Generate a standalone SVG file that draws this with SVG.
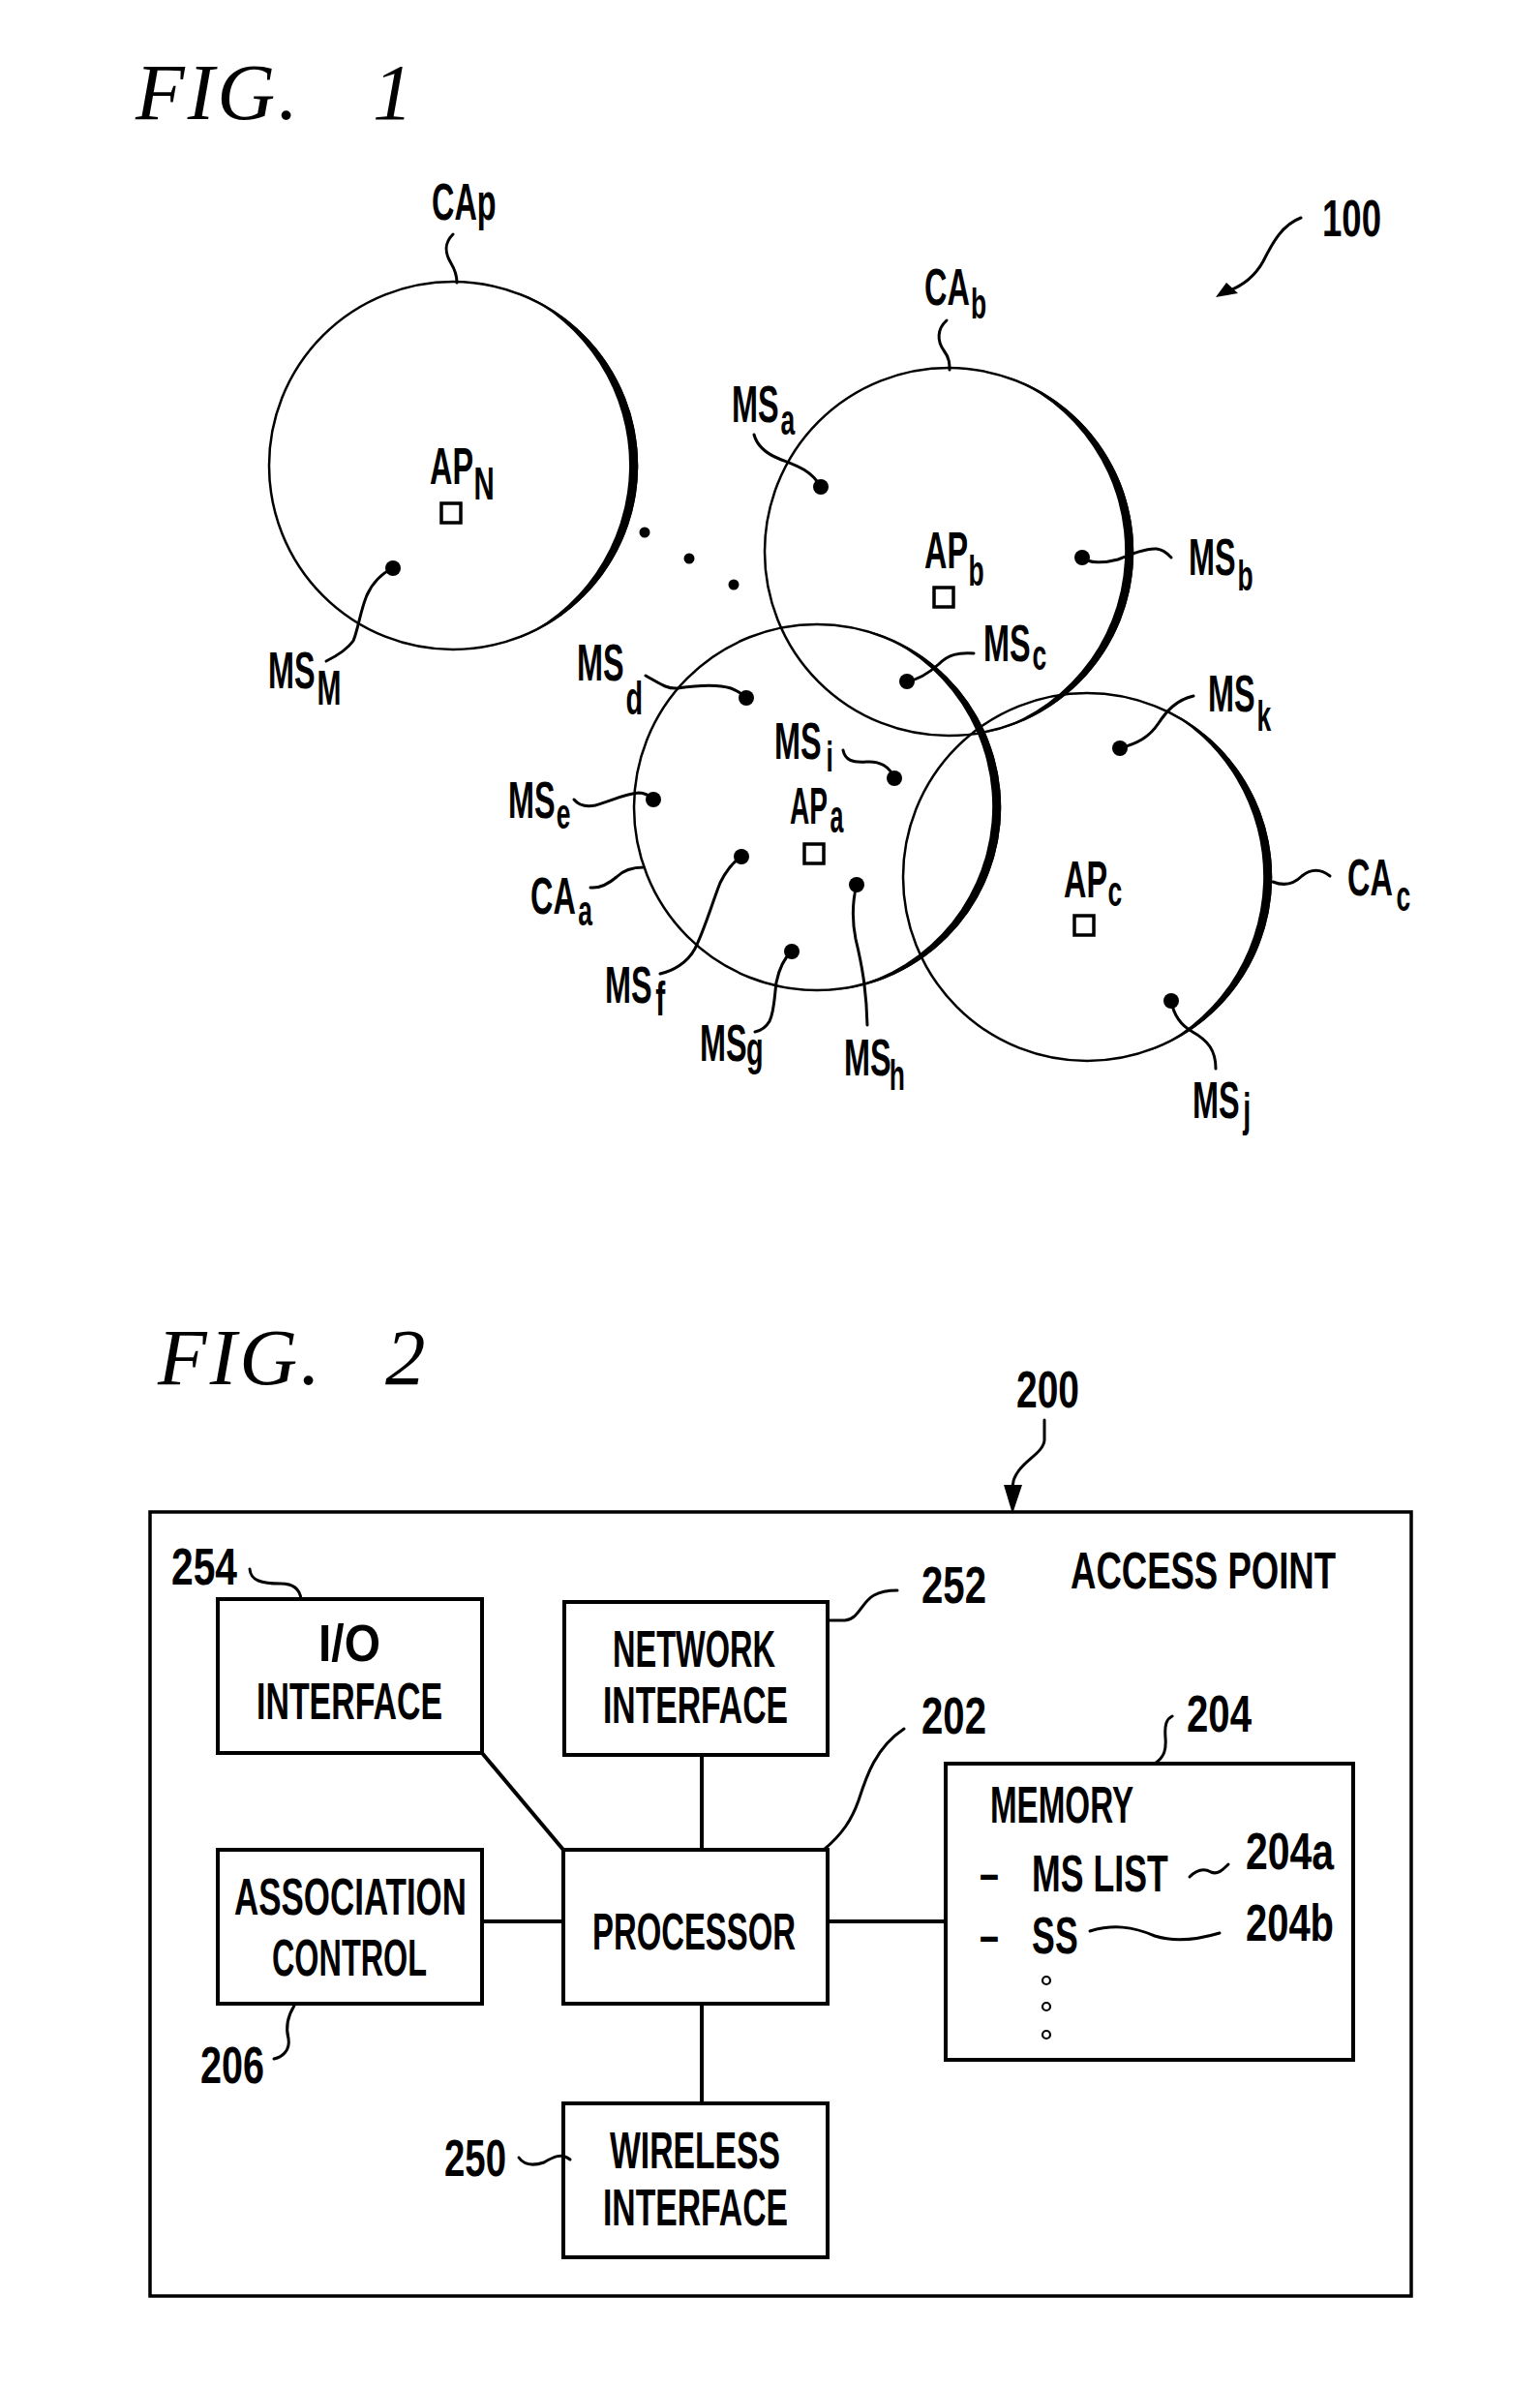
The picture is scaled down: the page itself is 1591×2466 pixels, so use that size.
<svg xmlns="http://www.w3.org/2000/svg" width="1591" height="2466" viewBox="0 0 1591 2466">
<style>
.t{font-family:"Liberation Sans",Arial,sans-serif;font-size:54px;font-weight:bold;fill:#000}
.s{font-size:44px}
.fig{font-family:"Liberation Serif","Times New Roman",serif;font-style:italic;font-size:83px;fill:#000;letter-spacing:3px}
.thin{fill:none;stroke:#000;stroke-width:2.5}
.cres{fill:#000;stroke:none}
.ld{fill:none;stroke:#000;stroke-width:3;stroke-linecap:round;stroke-linejoin:round}
.dot{fill:#000}
.sq{fill:#fff;stroke:#000;stroke-width:3.5}
.box{fill:#fff;stroke:#000;stroke-width:4}
.ln{fill:none;stroke:#000;stroke-width:4}
.oc{fill:none;stroke:#000;stroke-width:2.2}
</style>
<rect width="1591" height="2466" fill="#fff"/>

<!-- FIG. 1 -->
<text class="fig" x="140" y="123">FIG.<tspan x="385">1</tspan></text>
<text class="t" x="1366" y="244" textLength="61" lengthAdjust="spacingAndGlyphs">100</text>

<g id="CAp">
  <circle class="thin" cx="468" cy="481" r="190"/>
  <path class="cres" d="M533.4,301.3 A191.2,191.2 0 0 1 527.1,662.8 A196.3,196.3 0 0 0 533.4,301.3 Z"/>
  <text class="t" transform="translate(446,227) scale(0.6,1)">CAp</text>
</g>
<g id="APN">
  <rect class="sq" x="456" y="520" width="20" height="20"/>
  <text class="t" transform="translate(444,500) scale(0.6,1)">AP<tspan x="76" y="16" font-size="49">N</tspan></text>
</g>
<g id="CAb">
  <circle class="thin" cx="980" cy="570" r="190"/>
  <path class="cres" d="M1032.7,386.2 A191.2,191.2 0 0 1 1013.2,758.3 A194.3,194.3 0 0 0 1032.7,386.2 Z"/>
  <text class="t" transform="translate(955,315) scale(0.6,1)">CA<tspan class="s" x="80" y="14">b</tspan></text>
</g>
<g id="APb">
  <rect class="sq" x="965" y="607" width="20" height="20"/>
  <text class="t" transform="translate(955,587) scale(0.6,1)">AP<tspan class="s" x="76" y="18">b</tspan></text>
</g>
<g id="CAa">
  <circle class="thin" cx="844" cy="834" r="189"/>
  <path class="cres" d="M893.2,650.3 A190.2,190.2 0 0 1 860.6,1023.5 A192.5,192.5 0 0 0 893.2,650.3 Z"/>
  <text class="t" transform="translate(548,944) scale(0.6,1)">CA<tspan class="s" x="82" y="12">a</tspan></text>
</g>
<g id="APa">
  <rect class="sq" x="831" y="872" width="20" height="20"/>
  <text class="t" transform="translate(816,851) scale(0.52,1)">AP<tspan x="80" y="9" font-size="48">a</tspan></text>
</g>
<g id="CAc">
  <circle class="thin" cx="1123" cy="906" r="190"/>
  <path class="cres" d="M1194.6,728.7 A191.2,191.2 0 0 1 1182.1,1087.8 A196.6,196.6 0 0 0 1194.6,728.7 Z"/>
  <text class="t" transform="translate(1392,925) scale(0.6,1)">CA<tspan class="s" x="84" y="16">c</tspan></text>
</g>
<g id="APc">
  <rect class="sq" x="1110" y="946" width="20" height="20"/>
  <text class="t" transform="translate(1099,927) scale(0.6,1)">AP<tspan class="s" x="76" y="9">c</tspan></text>
</g>

<g id="MSM"><circle class="dot" cx="406" cy="587" r="8"/>
  <text class="t" transform="translate(277,711) scale(0.6,1)">MS<tspan x="84" y="17" font-size="50">M</tspan></text></g>
<g id="MSa"><circle class="dot" cx="848" cy="503" r="8"/>
  <text class="t" transform="translate(756,436) scale(0.6,1)">MS<tspan class="s" x="84" y="13">a</tspan></text></g>
<g id="MSb"><circle class="dot" cx="1118" cy="576" r="8"/>
  <text class="t" transform="translate(1228,594) scale(0.6,1)">MS<tspan class="s" x="84" y="16">b</tspan></text></g>
<g id="MSc"><circle class="dot" cx="937" cy="704" r="8"/>
  <text class="t" transform="translate(1016,683) scale(0.6,1)">MS<tspan class="s" x="84" y="9">c</tspan></text></g>
<g id="MSk"><circle class="dot" cx="1157" cy="773" r="8"/>
  <text class="t" transform="translate(1248,735) scale(0.6,1)">MS<tspan class="s" x="84" y="20">k</tspan></text></g>
<g id="MSi"><circle class="dot" cx="924" cy="804" r="8"/>
  <text class="t" transform="translate(800,784) scale(0.6,1)">MS<tspan class="s" x="89" y="13">i</tspan></text></g>
<g id="MSd"><circle class="dot" cx="771" cy="721" r="8"/>
  <text class="t" transform="translate(596,703) scale(0.6,1)">MS<tspan x="84" y="35" font-size="48">d</tspan></text></g>
<g id="MSe"><circle class="dot" cx="675" cy="826" r="8"/>
  <text class="t" transform="translate(525,845) scale(0.6,1)">MS<tspan class="s" x="83" y="11">e</tspan></text></g>
<g id="MSf"><circle class="dot" cx="766" cy="885" r="8"/>
  <text class="t" transform="translate(625,1036) scale(0.6,1)">MS<tspan x="87" y="13" font-size="50">f</tspan></text></g>
<g id="MSg"><circle class="dot" cx="818" cy="983" r="8"/>
  <text class="t" transform="translate(723,1096) scale(0.6,1)">MS<tspan x="80" y="4" font-size="48">g</tspan></text></g>
<g id="MSh"><circle class="dot" cx="885" cy="914" r="8"/>
  <text class="t" transform="translate(872,1111) scale(0.6,1)">MS<tspan class="s" x="78" y="15">h</tspan></text></g>
<g id="MSj"><circle class="dot" cx="1210" cy="1034" r="8"/>
  <text class="t" transform="translate(1232,1155) scale(0.6,1)">MS<tspan x="87" y="8" font-size="48">j</tspan></text></g>

<g id="ellipsis">
  <circle class="dot" cx="666" cy="550" r="5.5"/>
  <circle class="dot" cx="712" cy="577" r="5.5"/>
  <circle class="dot" cx="758" cy="604" r="5.5"/>
</g>

<g id="connectors-fig1">
  <path class="ld" d="M468,242 C458,252 460,262 466,272 C472,282 472,288 472,292"/>
  <path class="ld" d="M978,331 C968,340 968,352 975,362 C981,370 981,376 981,382"/>
  <path class="ld" d="M406,587 C395,592 385,602 379,615 C372,632 370,650 365,662 C358,672 347,678 337,683"/>
  <path class="ld" d="M1344,225 C1325,232 1315,250 1305,270 C1295,288 1282,296 1268,301"/>
  <polygon class="dot" points="1256,307 1267,292 1279,303"/>
  <path class="ld" d="M779,449 C782,460 790,468 805,474 C820,480 838,485 848,503"/>
  <path class="ld" d="M1118,576 C1125,582 1140,582 1155,578 C1170,572 1185,566 1195,567 C1203,568 1207,573 1210,576"/>
  <path class="ld" d="M937,704 C950,702 960,695 970,686 C980,676 990,674 1006,675"/>
  <path class="ld" d="M1233,719 C1215,723 1205,735 1197,747 C1187,762 1175,768 1157,773"/>
  <path class="ld" d="M871,775 C873,785 880,788 895,787 C910,786 918,792 924,803"/>
  <path class="ld" d="M667,698 C680,705 688,712 700,711 C720,708 740,706 755,711 C763,714 767,717 771,721"/>
  <path class="ld" d="M593,826 C598,832 605,834 615,832 C630,828 645,820 660,819 C667,819 671,822 675,826"/>
  <path class="ld" d="M610,917 C620,918 630,912 637,906 C644,899 652,896 665,896"/>
  <path class="ld" d="M766,885 C758,890 750,900 744,912 C735,935 728,960 718,980 C710,995 695,1003 682,1006"/>
  <path class="ld" d="M818,983 C810,990 805,1000 802,1015 C800,1030 800,1045 795,1055 C791,1062 785,1065 780,1066"/>
  <path class="ld" d="M885,914 C881,930 880,950 884,970 C890,995 895,1020 896,1059"/>
  <path class="ld" d="M1210,1034 C1212,1046 1218,1058 1232,1066 C1248,1075 1256,1085 1256,1104"/>
  <path class="ld" d="M1315,911 C1325,915 1335,915 1345,905 C1355,897 1365,898 1374,905"/>
</g>

<!-- FIG. 2 -->
<text class="fig" x="163" y="1430">FIG.<tspan x="398">2</tspan></text>

<g id="accessPoint">
  <rect x="155" y="1562" width="1303" height="810" fill="none" stroke="#000" stroke-width="3.5"/>
  <text class="t" x="1106" y="1641" textLength="274" lengthAdjust="spacingAndGlyphs">ACCESS POINT</text>
  <text class="t" x="1050" y="1454" textLength="65" lengthAdjust="spacingAndGlyphs">200</text>
</g>
<g id="io">
  <rect class="box" x="225" y="1652" width="273" height="159"/>
  <text class="t" x="329" y="1716" textLength="64" lengthAdjust="spacingAndGlyphs">I/O</text>
  <text class="t" x="265" y="1776" textLength="192" lengthAdjust="spacingAndGlyphs">INTERFACE</text>
  <text class="t" x="177" y="1637" textLength="68" lengthAdjust="spacingAndGlyphs">254</text>
</g>
<g id="network">
  <rect class="box" x="583" y="1655" width="272" height="158"/>
  <text class="t" x="633" y="1722" textLength="168" lengthAdjust="spacingAndGlyphs">NETWORK</text>
  <text class="t" x="623" y="1780" textLength="191" lengthAdjust="spacingAndGlyphs">INTERFACE</text>
  <text class="t" x="952" y="1656" textLength="67" lengthAdjust="spacingAndGlyphs">252</text>
</g>
<g id="association">
  <rect class="box" x="225" y="1911" width="273" height="159"/>
  <text class="t" x="242" y="1978" textLength="240" lengthAdjust="spacingAndGlyphs">ASSOCIATION</text>
  <text class="t" x="281" y="2041" textLength="160" lengthAdjust="spacingAndGlyphs">CONTROL</text>
  <text class="t" x="207" y="2152" textLength="66" lengthAdjust="spacingAndGlyphs">206</text>
</g>
<g id="processor">
  <rect class="box" x="582" y="1911" width="273" height="159"/>
  <text class="t" x="612" y="2014" textLength="210" lengthAdjust="spacingAndGlyphs">PROCESSOR</text>
  <text class="t" x="952" y="1791" textLength="67" lengthAdjust="spacingAndGlyphs">202</text>
</g>
<g id="wireless">
  <rect class="box" x="582" y="2173" width="273" height="159"/>
  <text class="t" x="630" y="2240" textLength="176" lengthAdjust="spacingAndGlyphs">WIRELESS</text>
  <text class="t" x="623" y="2299" textLength="191" lengthAdjust="spacingAndGlyphs">INTERFACE</text>
  <text class="t" x="459" y="2248" textLength="64" lengthAdjust="spacingAndGlyphs">250</text>
</g>
<g id="memory">
  <rect class="box" x="977" y="1822" width="421" height="306"/>
  <text class="t" x="1023" y="1883" textLength="148" lengthAdjust="spacingAndGlyphs">MEMORY</text>
  <text class="t" transform="translate(1012,1954) scale(0.66,1)">–<tspan x="82">MS LIST</tspan></text>
  <text class="t" transform="translate(1012,2018) scale(0.66,1)">–<tspan x="82">SS</tspan></text>
  <text class="t" x="1287" y="1931" textLength="91" lengthAdjust="spacingAndGlyphs">204a</text>
  <text class="t" x="1287" y="2005" textLength="91" lengthAdjust="spacingAndGlyphs">204b</text>
  <text class="t" x="1226" y="1789" textLength="67" lengthAdjust="spacingAndGlyphs">204</text>
  <circle class="oc" cx="1081" cy="2046" r="4"/>
  <circle class="oc" cx="1081" cy="2073" r="4"/>
  <circle class="oc" cx="1081" cy="2102" r="4"/>
</g>

<g id="connectors-fig2">
  <path class="ln" d="M498,1811 L582,1911"/>
  <path class="ln" d="M725,1813 L725,1911"/>
  <path class="ln" d="M498,1985 L582,1985"/>
  <path class="ln" d="M855,1985 L977,1985"/>
  <path class="ln" d="M725,2070 L725,2173"/>
  <path class="ld" d="M258,1621 C259,1633 270,1636 290,1636 C305,1636 310,1644 311,1652"/>
  <path class="ld" d="M857,1674 L873,1674 C888,1672 890,1655 903,1648 C910,1644 918,1643 927,1643"/>
  <path class="ld" d="M851,1911 C870,1895 880,1880 887,1860 C895,1835 905,1805 934,1786"/>
  <path class="ld" d="M1193,1822 C1203,1815 1205,1808 1204,1795 C1203,1782 1205,1776 1211,1773"/>
  <path class="ld" d="M1229,1939 C1236,1932 1244,1930 1251,1934 C1258,1937 1263,1932 1269,1926"/>
  <path class="ld" d="M1126,1995 C1150,1988 1170,1990 1193,2000 C1215,2007 1240,2003 1260,1997"/>
  <path class="ld" d="M304,2072 C296,2085 295,2095 298,2106 C300,2118 292,2125 283,2127"/>
  <path class="ld" d="M536,2229 C541,2236 550,2238 562,2234 C572,2228 580,2224 589,2231"/>
  <path class="ld" d="M1079,1467 L1079,1488 C1078,1500 1060,1508 1052,1520 C1047,1527 1046,1532 1046,1540"/>
  <polygon class="dot" points="1037,1534 1056,1534 1046,1564"/>
</g>
</svg>
